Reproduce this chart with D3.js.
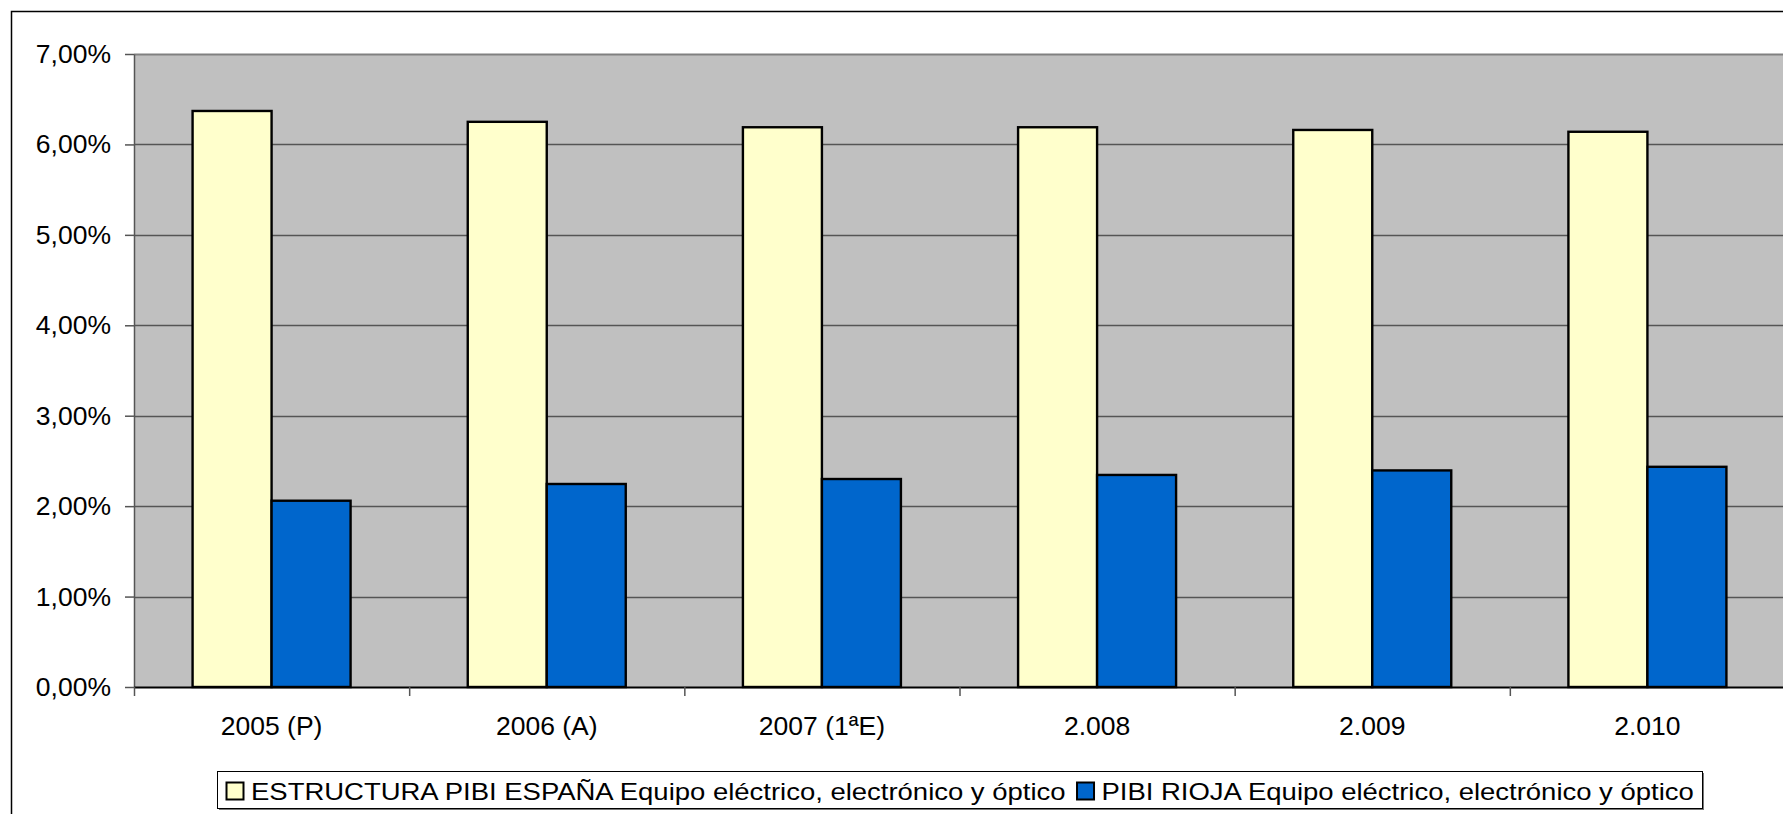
<!DOCTYPE html>
<html>
<head>
<meta charset="utf-8">
<script src="https://cdn.jsdelivr.net/npm/d3@7"></script>
<style>
  html, body { margin: 0; padding: 0; background: #fff; }
  svg { display: block; }
  text { font-family: "Liberation Sans", Arial, sans-serif; fill: #000; }
</style>
</head>
<body>
<script>
const categories = ["2005 (P)", "2006 (A)", "2007 (1ªE)", "2.008", "2.009", "2.010"];
const seriesNames = [
  "ESTRUCTURA PIBI ESPAÑA Equipo eléctrico, electrónico y óptico",
  "PIBI RIOJA Equipo eléctrico, electrónico y óptico"
];
const espana = [6.37, 6.25, 6.19, 6.19, 6.16, 6.14];
const rioja = [2.06, 2.245, 2.30, 2.345, 2.395, 2.435];
const yTicks = [0, 1, 2, 3, 4, 5, 6, 7];
const colors = ["#FFFFCC", "#0066CC"];

const W = 1783, H = 814;
const svg = d3.select("body").append("svg").attr("width", W).attr("height", H);

// outer chart frame (cropped on right/bottom)
svg.append("rect").attr("x", 11.5).attr("y", 11.5).attr("width", W + 20).attr("height", H + 20)
  .attr("fill", "#fff").attr("stroke", "#000").attr("stroke-width", 1.5);

const plot = { left: 134, top: 54, right: 1785, bottom: 687 };

const x = d3.scaleBand().domain(categories).range([plot.left, plot.right]).paddingInner(0).paddingOuter(0);
const y = d3.scaleLinear().domain([0, 7]).range([plot.bottom, plot.top]);

// plot background
svg.append("rect").attr("x", plot.left).attr("y", plot.top)
  .attr("width", plot.right - plot.left).attr("height", plot.bottom - plot.top)
  .attr("fill", "#C0C0C0");

// gridlines
svg.append("g").selectAll("line").data(yTicks.filter(d => d > 0)).join("line")
  .attr("x1", plot.left).attr("x2", plot.right)
  .attr("y1", d => Math.round(y(d)) + 0.5).attr("y2", d => Math.round(y(d)) + 0.5)
  .attr("stroke", d => d === 7 ? "#808080" : "#555").attr("stroke-width", d => d === 7 ? 2 : 1.5);

// bars
const barW = 79;
const groupOffset = (x.bandwidth() - 2 * barW) / 2;
const series = [espana, rioja];
series.forEach((vals, si) => {
  svg.append("g").selectAll("rect").data(vals).join("rect")
    .attr("x", (d, i) => x(categories[i]) + groupOffset + si * barW)
    .attr("y", d => y(d))
    .attr("width", barW)
    .attr("height", d => y(0) - y(d))
    .attr("fill", colors[si])
    .attr("stroke", "#000").attr("stroke-width", 2.4);
});

// y axis
const yAxis = d3.axisLeft(y).tickValues(yTicks).tickSizeInner(9).tickSizeOuter(0).tickPadding(14)
  .tickFormat(d => d3.format(".2f")(d).replace(".", ",") + "%");
const gy = svg.append("g").attr("transform", `translate(${plot.left},0)`).call(yAxis);
gy.select(".domain").attr("stroke", "#555").attr("stroke-width", 1.5);
gy.selectAll(".tick line").attr("stroke", "#555").attr("stroke-width", 1.5);
gy.selectAll(".tick text").attr("font-size", 26.5).attr("font-family", "Liberation Sans, Arial, sans-serif").attr("fill", "#000");

// x axis
const xAxis = d3.axisBottom(x).tickSize(0).tickPadding(29).tickSizeOuter(0);
const gx = svg.append("g").attr("transform", `translate(0,${plot.bottom})`).call(xAxis);
gx.select(".domain").attr("stroke", "#000").attr("stroke-width", 2);
gx.selectAll(".tick text").attr("font-size", 26.5).attr("font-family", "Liberation Sans, Arial, sans-serif").attr("fill", "#000");
// category boundary tick marks
svg.append("g").selectAll("line").data(categories).join("line")
  .attr("x1", d => x(d) + 0.5).attr("x2", d => x(d) + 0.5)
  .attr("y1", plot.bottom).attr("y2", plot.bottom + 9)
  .attr("stroke", "#555").attr("stroke-width", 1.5);

// legend
const legend = { x: 217, y: 771, w: 1485, h: 37 };
svg.append("rect").attr("x", legend.x + 2).attr("y", legend.y + 2).attr("width", legend.w).attr("height", legend.h)
  .attr("fill", "#777");
svg.append("rect").attr("x", legend.x + 0.5).attr("y", legend.y + 0.5).attr("width", legend.w).attr("height", legend.h)
  .attr("fill", "#fff").attr("stroke", "#000").attr("stroke-width", 1);

const lg = svg.append("g");
const stretch = 1.145;
let cx = legend.x + 9;
seriesNames.forEach((name, i) => {
  lg.append("rect").attr("x", cx + 0.5).attr("y", legend.y + 11.5).attr("width", 17).attr("height", 17)
    .attr("fill", colors[i]).attr("stroke", "#000").attr("stroke-width", 2);
  const tx = cx + 25;
  const t = lg.append("text")
    .attr("transform", `translate(${tx},${legend.y + 29}) scale(${stretch},1)`)
    .attr("font-size", 24).text(name);
  const tw = t.node().getComputedTextLength() * stretch;
  cx = tx + tw + 11;
});
</script>
</body>
</html>
